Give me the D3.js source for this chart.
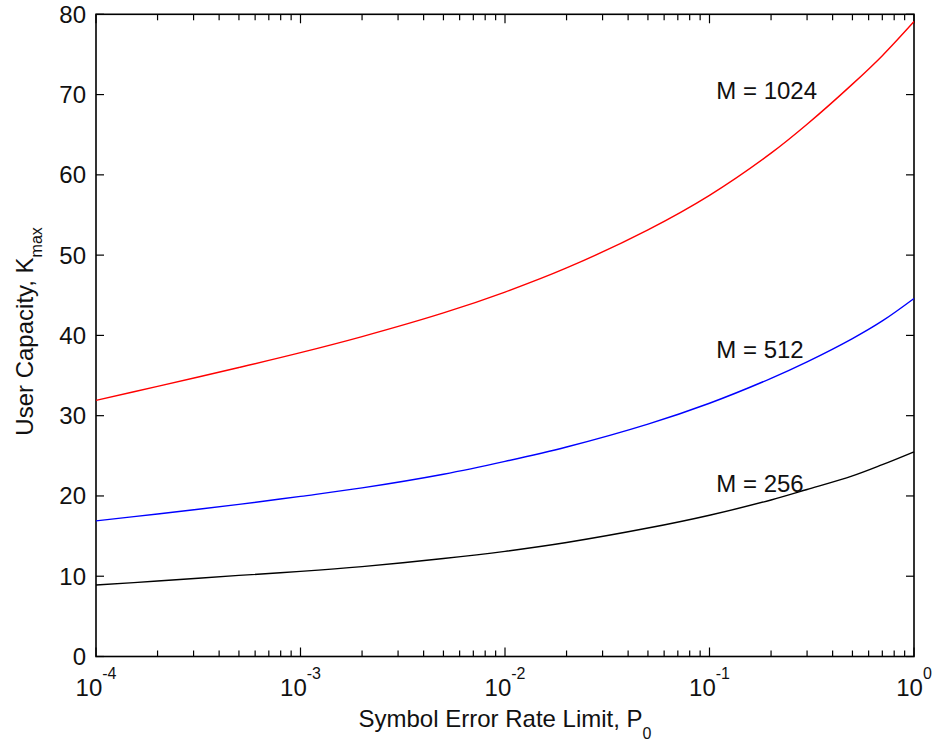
<!DOCTYPE html>
<html>
<head>
<meta charset="utf-8">
<script src="https://cdn.jsdelivr.net/npm/d3@7"></script>
<style>
  html, body { margin: 0; padding: 0; background: #fff; }
  svg { display: block; font-family: "Liberation Sans", Arial, sans-serif; }
</style>
</head>
<body>
<svg id="chart" width="934" height="747"></svg>
<script>
// Symbol error rate limit P0 (log axis)
const p0 = [1e-4, 2e-4, 5e-4, 1e-3, 2e-3, 5e-3, 1e-2, 2e-2, 5e-2, 0.1, 0.2, 0.3, 0.5, 0.7, 1];

// User capacity K_max for each processing gain M
const kM1024 = [31.9, 33.65, 36.0, 37.85, 39.85, 42.8, 45.4, 48.4, 53.15, 57.45, 62.7, 66.3, 71.3, 74.85, 79.1];
const kM512  = [16.9, 17.75, 18.95, 19.95, 21.0, 22.7, 24.3, 26.1, 28.95, 31.55, 34.65, 36.7, 39.6, 41.8, 44.6];
const kM256  = [8.9, 9.4, 10.1, 10.6, 11.2, 12.2, 13.1, 14.2, 16.0, 17.6, 19.5, 20.8, 22.5, 23.9, 25.5];

const seriesNames  = ["M = 1024", "M = 512", "M = 256"];
const seriesColors = ["#ff0000", "#0000ff", "#000000"];
// label anchor positions in data units (P0, K)
const labelP0 = [0.108, 0.108, 0.108];
const labelK  = [69.4, 37.2, 20.5];

const yTicks = [0, 10, 20, 30, 40, 50, 60, 70, 80];
const xMajor = [1e-4, 1e-3, 1e-2, 1e-1, 1];
const xMajorExp = ["-4", "-3", "-2", "-1", "0"];

const svg = d3.select("#chart");
const L = 96, R = 914, T = 14.3, B = 656.5;

const x = d3.scaleLog().domain([1e-4, 1]).range([L, R]);
const y = d3.scaleLinear().domain([0, 80]).range([B, T]);

const fontSize = 24;

// minor + major ticks on the log axis (top and bottom, pointing inward)
const xAll = x.ticks();
const isMajor = v => xMajor.some(m => Math.abs(Math.log10(v) - Math.log10(m)) < 1e-9);
const tickG = svg.append("g").attr("stroke", "#000").attr("stroke-width", 1.2);
xAll.forEach(v => {
  const len = isMajor(v) ? 9 : 6;
  const px = x(v);
  tickG.append("line").attr("x1", px).attr("x2", px).attr("y1", B).attr("y2", B - len);
  tickG.append("line").attr("x1", px).attr("x2", px).attr("y1", T).attr("y2", T + len);
});
yTicks.forEach(v => {
  const py = y(v);
  tickG.append("line").attr("x1", L).attr("x2", L + 8).attr("y1", py).attr("y2", py);
  tickG.append("line").attr("x1", R).attr("x2", R - 8).attr("y1", py).attr("y2", py);
});

// axes box
svg.append("rect")
  .attr("x", L).attr("y", T).attr("width", R - L).attr("height", B - T)
  .attr("fill", "none").attr("stroke", "#000").attr("stroke-width", 1.6);

// y tick labels
svg.append("g").selectAll("text").data(yTicks).join("text")
  .attr("x", L - 10).attr("y", d => y(d))
  .attr("text-anchor", "end").attr("dominant-baseline", "central")
  .attr("font-size", fontSize).attr("fill", "#111")
  .text(d => d);

// x tick labels as powers of ten
const xl = svg.append("g").selectAll("text").data(xMajor).join("text")
  .attr("x", d => x(d)).attr("y", 696)
  .attr("text-anchor", "middle").attr("font-size", fontSize).attr("fill", "#111");
xl.append("tspan").text("10");
xl.append("tspan").attr("dy", -17).attr("font-size", 16).text((d, i) => xMajorExp[i]);

// x axis title
const xt = svg.append("text")
  .attr("x", (L + R) / 2).attr("y", 727)
  .attr("text-anchor", "middle").attr("font-size", fontSize).attr("fill", "#111");
xt.append("tspan").text("Symbol Error Rate Limit, P");
xt.append("tspan").attr("dy", 12).attr("font-size", 16).text("0");

// y axis title
const yt = svg.append("text")
  .attr("transform", `translate(33,${(T + B) / 2 - 4}) rotate(-90)`)
  .attr("text-anchor", "middle").attr("font-size", fontSize).attr("fill", "#111");
yt.append("tspan").text("User Capacity, K");
yt.append("tspan").attr("dy", 9).attr("font-size", 16).text("max");

// curves
const line = d3.line()
  .x(d => x(d[0]))
  .y(d => y(d[1]))
  .curve(d3.curveCatmullRom.alpha(0.5));

[kM1024, kM512, kM256].forEach((vals, i) => {
  svg.append("path")
    .datum(p0.map((p, j) => [p, vals[j]]))
    .attr("d", line)
    .attr("fill", "none")
    .attr("stroke", seriesColors[i])
    .attr("stroke-width", 1.4);
});

// series labels
svg.append("g").selectAll("text").data(seriesNames).join("text")
  .attr("x", (d, i) => x(labelP0[i]))
  .attr("y", (d, i) => y(labelK[i]))
  .attr("font-size", fontSize).attr("fill", "#111")
  .text(d => d);
</script>
</body>
</html>
